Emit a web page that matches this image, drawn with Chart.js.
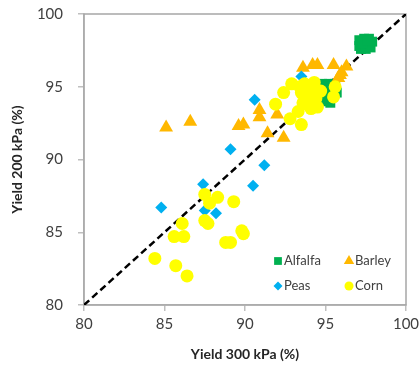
<!DOCTYPE html>
<html>
<head>
<meta charset="utf-8">
<script src="https://cdn.jsdelivr.net/npm/chart.js@4.4.1/dist/chart.umd.min.js"></script>
<style>
  html, body { margin: 0; padding: 0; background: #fff; }
  #wrap { width: 420px; height: 365px; position: relative; }
</style>
</head>
<body>
<div id="wrap"><canvas id="c" width="420" height="365"></canvas></div>
<script>
// Relative yield (%) at 300 kPa (x) versus 200 kPa (y)
const alfalfa = [
  [97.1, 98.2], [97.1, 97.8], [97.2, 97.6], [97.4, 98.3], [97.5, 97.9], [97.5, 97.6],
  [97.7, 98.3], [97.7, 98.0], [97.8, 97.7], [97.9, 98.1], [97.3, 98.0], [97.6, 98.2],
  [94.8, 95.2], [95.0, 94.9], [95.2, 95.2], [95.3, 94.6], [95.5, 94.9], [95.1, 94.4],
  [95.4, 94.3], [94.9, 94.6], [95.6, 95.2], [95.0, 94.0], [95.3, 93.9], [95.7, 94.6],
  [94.8, 94.2]
];
const barley = [
  [85.1, 92.2], [86.6, 92.6], [89.6, 92.3], [89.9, 92.4], [90.9, 93.4], [90.9, 92.9],
  [92.0, 93.1], [91.4, 91.8], [92.4, 91.5], [93.6, 96.3], [94.2, 96.5], [94.5, 96.5],
  [95.5, 96.5], [95.9, 95.8], [96.3, 96.4], [95.8, 95.6], [96.0, 96.0]
];
const peas = [
  [84.8, 86.7], [87.4, 88.3], [87.5, 86.5], [88.2, 86.3], [89.1, 90.7], [90.5, 88.2],
  [91.2, 89.6], [90.6, 94.1], [93.5, 95.7]
];
const corn = [
  [84.4, 83.2], [85.7, 82.7], [86.4, 82.0], [85.6, 84.7], [86.2, 84.7], [86.1, 85.6],
  [87.5, 87.6], [87.8, 87.0], [88.3, 87.4], [87.5, 85.8], [87.7, 85.6], [89.3, 87.1],
  [88.8, 84.3], [89.1, 84.3], [89.8, 85.1], [89.9, 84.9],
  [91.9, 93.8], [92.4, 94.6], [92.9, 95.2], [92.8, 92.8], [93.5, 92.4], [93.3, 93.3],
  [93.8, 93.8], [94.5, 93.6], [93.7, 95.2], [94.3, 95.3], [95.6, 95.0], [95.5, 94.3],
  [93.5, 94.6], [94.0, 94.8], [94.4, 94.2], [93.9, 94.2], [94.2, 95.0], [94.7, 94.7],
  [93.4, 95.0], [94.1, 93.5], [93.6, 93.9]
];
const oneToOne = [[80, 80], [100, 100]];
const axisTicks = [80, 85, 90, 95, 100];

const toXY = arr => arr.map(([x, y]) => ({ x, y }));

// Series styles: name, data, colour, point shape, point radius
const series = [
  { label: 'Alfalfa', data: alfalfa, color: '#00B050', style: 'rect', r: 7, legendR: 5.5 },
  { label: 'Barley', data: barley, color: '#FFB800', style: 'triangle', r: 8, legendR: 6 },
  { label: 'Peas', data: peas, color: '#00B0F0', style: 'rectRot', r: 6, legendR: 4.5 },
  { label: 'Corn', data: corn, color: '#FFFF00', style: 'circle', r: 6.5, legendR: 4.5 }
];

const datasets = series.map((s, i) => ({
  type: 'scatter',
  label: s.label,
  data: toXY(s.data),
  backgroundColor: s.color,
  borderColor: s.color,
  borderWidth: 0,
  pointStyle: s.style,
  pointRadius: s.r,
  pointHoverRadius: s.r,
  order: series.length - i
}));

datasets.push({
  type: 'line',
  label: '1:1',
  data: toXY(oneToOne),
  borderColor: '#000',
  borderWidth: 2.5,
  borderDash: [7, 4],
  pointRadius: 0,
  fill: false,
  order: 10
});

const tickFont = { family: 'Lato, "Open Sans", sans-serif', size: 15 };
const titleFont = { family: 'Lato, "Open Sans", sans-serif', size: 14, weight: 'bold' };

// Grey frame around the plotting area
const framePlugin = {
  id: 'frame',
  beforeDatasetsDraw(chart) {
    const { ctx, chartArea: a } = chart;
    ctx.save();
    ctx.strokeStyle = '#A6A6A6';
    ctx.lineWidth = 1.5;
    ctx.strokeRect(a.left, a.top, a.right - a.left, a.bottom - a.top);
    ctx.restore();
  }
};

// Two-column legend in the lower right corner of the plot
const legendPlugin = {
  id: 'cornerLegend',
  afterDatasetsDraw(chart) {
    const { ctx, chartArea: a } = chart;
    ctx.save();
    ctx.font = '13px Lato, "Open Sans", sans-serif';
    ctx.textBaseline = 'middle';
    series.forEach((s, i) => {
      const col = i % 2, row = Math.floor(i / 2);
      const mx = a.right - 128 + col * 71;
      const my = a.bottom - 44 + row * 25;
      ctx.fillStyle = s.color;
      Chart.helpers.drawPoint(ctx, {
        pointStyle: s.style, radius: s.legendR, borderWidth: 0, rotation: 0
      }, mx, my);
      ctx.fillStyle = '#404040';
      ctx.fillText(s.label, mx + 6, my);
    });
    ctx.restore();
  }
};

const axisCommon = (title) => ({
  type: 'linear',
  min: 80,
  max: 100,
  afterBuildTicks: scale => { scale.ticks = axisTicks.map(v => ({ value: v })); },
  ticks: { font: tickFont, color: '#404040', padding: 4 },
  grid: { display: true, drawOnChartArea: false, drawTicks: true, tickLength: 6, color: '#BFBFBF', lineWidth: 1.5 },
  border: { display: true, color: '#BFBFBF', width: 1.5 },
  title: { display: true, text: title, font: titleFont, color: '#262626' }
});

const xAxis = axisCommon('Yield 300 kPa (%)');
xAxis.position = 'bottom';
xAxis.title.padding = { top: 0, bottom: 2 };
xAxis.afterFit = s => { s.height = 60; s.paddingLeft = 0; s.paddingRight = 0; };

const yAxis = axisCommon('Yield 200 kPa (%)');
yAxis.position = 'left';
yAxis.ticks.padding = 15;
yAxis.title.padding = { top: 9, bottom: 0 };
yAxis.afterFit = s => { s.width = 84; s.paddingTop = 0; s.paddingBottom = 0; };

new Chart(document.getElementById('c'), {
  data: { datasets },
  options: {
    responsive: false,
    animation: false,
    layout: { padding: { left: 0, top: 14, right: 14, bottom: 0 } },
    plugins: {
      legend: { display: false },
      tooltip: { enabled: false }
    },
    scales: { x: xAxis, y: yAxis }
  },
  plugins: [framePlugin, legendPlugin]
});
</script>
</body>
</html>
